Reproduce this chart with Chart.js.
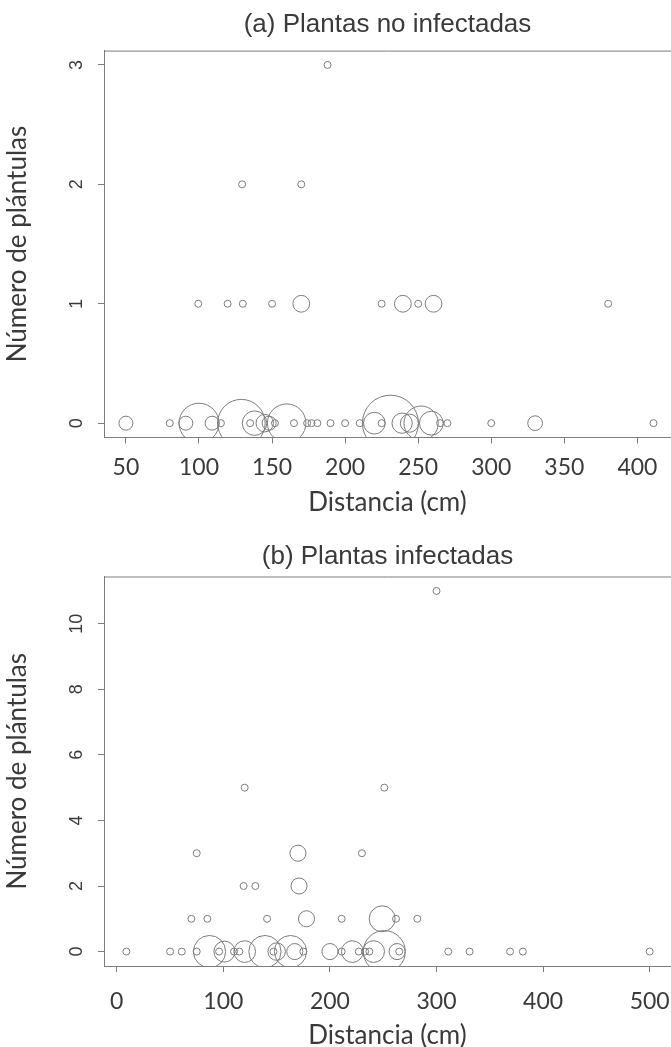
<!DOCTYPE html>
<html>
<head>
<meta charset="utf-8">
<script src="https://cdn.jsdelivr.net/npm/chart.js@4.4.1/dist/chart.umd.min.js"></script>
<style>
  html, body { margin: 0; padding: 0; background: #fff; overflow: hidden; }
  #chartA { position: absolute; left: 0; top: 0; }
  #chartB { position: absolute; left: 0; top: 540px; }
</style>
</head>
<body>
<canvas id="chartA" width="671" height="540"></canvas>
<canvas id="chartB" width="671" height="515"></canvas>
<script>
// (a) Plantas no infectadas: distancia (cm), número de plántulas, tamaño relativo del círculo
const distA = [50, 80, 91, 100, 109, 115, 129, 135, 138, 145, 148, 152, 160, 165, 174, 177, 181, 190, 200, 210,
  220, 225, 231, 239, 244, 252, 259, 265, 270, 300, 330, 411,
  99.5, 119.6, 130, 150, 170, 225, 239.5, 250, 260.5, 380,
  129.5, 170,
  188];
const nA = [0, 0, 0, 0, 0, 0, 0, 0, 0, 0, 0, 0, 0, 0, 0, 0, 0, 0, 0, 0,
  0, 0, 0, 0, 0, 0, 0, 0, 0, 0, 0, 0,
  1, 1, 1, 1, 1, 1, 1, 1, 1, 1,
  2, 2,
  3];
const tamA = [2, 1, 2, 5.7, 2, 1, 6.8, 1, 3.5, 2.5, 2, 1, 5.5, 1, 1, 1, 1, 1, 1, 1,
  3.1, 1, 8, 2.9, 2.6, 4.9, 3.4, 1, 1, 1, 2.1, 1,
  1, 1, 1, 1, 2.4, 1, 2.4, 1, 2.4, 1,
  1, 1,
  1];

// (b) Plantas infectadas
const distB = [9, 50, 61, 75, 87, 96, 101, 110, 115, 120, 139, 147, 150, 163, 167, 175, 200, 211, 221, 227,
  233, 237, 241, 251, 263, 265, 311, 331, 369, 381, 500,
  70, 85, 141, 178, 211, 249, 262, 282,
  119, 130, 171,
  75, 170, 230,
  120, 251,
  300];
const nB = [0, 0, 0, 0, 0, 0, 0, 0, 0, 0, 0, 0, 0, 0, 0, 0, 0, 0, 0, 0,
  0, 0, 0, 0, 0, 0, 0, 0, 0, 0, 0,
  1, 1, 1, 1, 1, 1, 1, 1,
  2, 2, 2,
  3, 3, 3,
  5, 5,
  11];
const tamB = [1, 1, 1, 1, 4.6, 1, 3, 1, 1, 3.1, 4.6, 1, 2.5, 4.6, 2.3, 1, 2.3, 1, 3.1, 1,
  1, 1, 3.1, 6, 2.3, 1, 1, 1, 1, 1, 1,
  1, 1, 1, 2.3, 1, 3.7, 1, 1,
  1, 1, 2.3,
  1, 2.3, 1,
  1, 1,
  1];

const ticksXA = [50, 100, 150, 200, 250, 300, 350, 400];
const ticksYA = [0, 1, 2, 3];
const ticksXB = [0, 100, 200, 300, 400, 500];
const ticksYB = [0, 2, 4, 6, 8, 10];

const RADIO = 3.5;   // px por unidad de tamaño
const gris = '#7c7c7c';
const texto = '#3a3a3a';

const marcoSuperior = {
  id: 'marcoSuperior',
  afterDraw(chart) {
    const {ctx, chartArea} = chart;
    ctx.save();
    ctx.strokeStyle = gris;
    ctx.lineWidth = 1;
    ctx.beginPath();
    ctx.moveTo(chartArea.left, chartArea.top + 0.5);
    ctx.lineTo(chartArea.right, chartArea.top + 0.5);
    ctx.stroke();
    ctx.restore();
  }
};

function makeChart(id, opt) {
  const points = opt.dist.map((d, i) => ({ x: d, y: opt.n[i] }));
  return new Chart(document.getElementById(id), {
    type: 'bubble',
    data: {
      datasets: [{
        data: points,
        radius: ctx => opt.tam[ctx.dataIndex] * RADIO,
        borderColor: gris,
        borderWidth: 1,
        backgroundColor: 'rgba(0,0,0,0)',
        clip: 0
      }]
    },
    options: {
      responsive: false,
      animation: false,
      events: [],
      layout: { padding: 0, autoPadding: false },
      plugins: {
        legend: { display: false },
        tooltip: { enabled: false },
        title: {
          display: true,
          text: opt.title,
          fullSize: false,
          color: texto,
          font: { family: 'Liberation Sans', size: 26, weight: 'normal' },
          padding: opt.titlePad
        }
      },
      scales: {
        x: {
          type: 'linear',
          min: opt.xMin,
          max: opt.xMax,
          afterBuildTicks: s => { s.ticks = opt.ticksX.map(v => ({ value: v })); },
          afterFit: s => { s.height = opt.xHeight; s.paddingLeft = 0; s.paddingRight = 0; },
          grid: { drawOnChartArea: false, drawTicks: true, tickLength: 6, tickColor: gris },
          border: { display: true, color: gris, width: 1 },
          ticks: {
            autoSkip: false, maxRotation: 0,
            color: texto,
            font: { family: 'Lato', size: 23 },
            padding: opt.xTickPad
          },
          title: {
            display: true,
            text: 'Distancia (cm)',
            color: texto,
            font: { family: 'Lato', size: 26 },
            padding: { top: 0, bottom: opt.xTitlePad }
          }
        },
        y: {
          type: 'linear',
          min: opt.yMin,
          max: opt.yMax,
          afterBuildTicks: s => { s.ticks = opt.ticksY.map(v => ({ value: v })); },
          afterFit: s => { s.width = 104; s.paddingTop = 0; s.paddingBottom = 0; },
          grid: { drawOnChartArea: false, drawTicks: true, tickLength: 6, tickColor: gris },
          border: { display: true, color: gris, width: 1 },
          ticks: {
            minRotation: 90, maxRotation: 90,
            crossAlign: 'center',
            color: texto,
            font: { family: 'Liberation Sans', size: 18 },
            padding: opt.yTickPad
          },
          title: {
            display: true,
            text: 'Número de plántulas',
            color: texto,
            font: { family: 'Lato', size: 26 },
            padding: { top: 2.4, bottom: 0 }
          }
        }
      }
    },
    plugins: [marcoSuperior]
  });
}

makeChart('chartA', {
  dist: distA, n: nA, tam: tamA,
  title: '(a) Plantas no infectadas',
  titlePad: { top: 9.4, bottom: 10 },
  xMin: 35, xMax: 423, yMin: -0.12, yMax: 3.12,
  ticksX: ticksXA, ticksY: ticksYA,
  xHeight: 102.5, xTickPad: 10.7, xTitlePad: 21.4, yTickPad: 16
});

makeChart('chartB', {
  dist: distB, n: nB, tam: tamB,
  title: '(b) Plantas infectadas',
  titlePad: { top: 1.4, bottom: 3.9 },
  xMin: -12, xMax: 520, yMin: -0.44, yMax: 11.44,
  ticksX: ticksXB, ticksY: ticksYB,
  xHeight: 89, xTickPad: 16.2, xTitlePad: 3.4, yTickPad: 11
});
</script>
</body>
</html>
